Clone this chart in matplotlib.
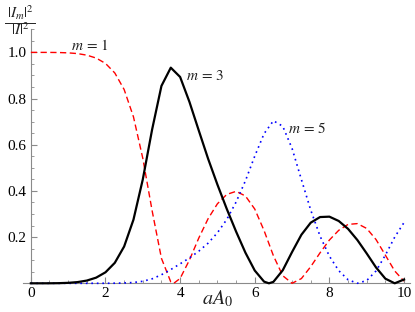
import matplotlib
matplotlib.use("Agg")
import matplotlib.pyplot as plt
from matplotlib.lines import Line2D
from matplotlib.ticker import FixedLocator, MultipleLocator

# Data
a_A0 = [0.0, 0.25, 0.5, 0.75, 1.0, 1.25, 1.5, 1.75, 2.0, 2.25, 2.5, 2.75,
        3.0, 3.25, 3.5, 3.75, 4.0, 4.25, 4.5, 4.75, 5.0, 5.25, 5.5, 5.75,
        6.0, 6.25, 6.5, 6.75, 7.0, 7.25, 7.5, 7.75, 8.0, 8.25, 8.5, 8.75,
        9.0, 9.25, 9.5, 9.75, 10.0]

m1_x = a_A0[:16] + [3.83] + a_A0[16:]
m1 = [1.0000, 1.0000, 0.9999, 0.9994, 0.9980, 0.9948, 0.9880, 0.9755, 0.9523,
      0.9109, 0.8393, 0.7209, 0.5414, 0.3143, 0.1079, 0.0060, 0.0000, 0.0211,
      0.1008, 0.1959, 0.2798, 0.3445, 0.3850, 0.3982, 0.3782, 0.3216, 0.2282,
      0.1194, 0.0329, 0.0001, 0.0205, 0.0721, 0.1321, 0.1874, 0.2294, 0.2551,
      0.2585, 0.2375, 0.1894, 0.1219, 0.0535, 0.0091]

m3_x = a_A0[:26] + [6.38] + a_A0[26:]
m3 = [0.0000, 0.0000, 0.0001, 0.0006, 0.0020, 0.0052, 0.0118, 0.0245, 0.0476,
      0.0887, 0.1594, 0.2756, 0.4499, 0.6662, 0.8549, 0.9338, 0.8936, 0.7857,
      0.6617, 0.5394, 0.4273, 0.3222, 0.2240, 0.1326, 0.0553, 0.0072, 0.0000,
      0.0063, 0.0564, 0.1355, 0.2103, 0.2626, 0.2869, 0.2886, 0.2699, 0.2358,
      0.1873, 0.1292, 0.0686, 0.0200, 0.0000, 0.0164]

m5_x = a_A0
m5 = [0.0000, 0.0000, 0.0000, 0.0000, 0.0000, 0.0000, 0.0000, 0.0000, 0.0001,
      0.0004, 0.0013, 0.0035, 0.0087, 0.0194, 0.0370, 0.0596, 0.0843, 0.1098,
      0.1391, 0.1739, 0.2189, 0.2764, 0.3518, 0.4440, 0.5507, 0.6481, 0.7039,
      0.6802, 0.5840, 0.4493, 0.3170, 0.2043, 0.1175, 0.0548, 0.0154, 0.0001,
      0.0120, 0.0536, 0.1219, 0.1999, 0.2632]

x_ticks = [0, 2, 4, 6, 8, 10]
x_ticklabels = ["0", "2", "4", "6", "8", "10"]
y_ticks = [0.2, 0.4, 0.6, 0.8, 1.0]
y_ticklabels = ["0.2", "0.4", "0.6", "0.8", "1.0"]

plt.rcParams['mathtext.fontset'] = 'stix'
serif = 'Liberation Serif'
axis_gray = '#8a8a8a'
text_col = '#222222'
W, H = 415, 312

fig = plt.figure(figsize=(4.15, 3.12), dpi=100)
ax = fig.add_axes([23 / W, 28.7 / H, 387 / W, 254 / H])
ax.set_xlim(-0.21, 10.16)
ax.set_ylim(0, 1.10)

ax.plot(m1_x, m1, color='#ff0000', lw=1.0, dashes=(4.5, 2.5), clip_on=False, zorder=3,
        solid_joinstyle='round', dash_joinstyle='round')
ax.plot(m3_x, m3, color='black', lw=1.6, clip_on=False, zorder=4,
        solid_joinstyle='round')
ax.plot(m5_x, m5, color='#0000ff', lw=1.2, dashes=(1.0, 2.3), clip_on=False, zorder=3,
        dash_joinstyle='round')

for s in ['top', 'right']:
    ax.spines[s].set_visible(False)
ax.spines['left'].set_position(('data', 0))
ax.spines['bottom'].set_position(('data', 0))
for s in ['left', 'bottom']:
    ax.spines[s].set_color(axis_gray)
    ax.spines[s].set_linewidth(0.8)

ax.xaxis.set_major_locator(FixedLocator(x_ticks))
ax.set_xticklabels(x_ticklabels)
ax.xaxis.set_minor_locator(MultipleLocator(0.5))
ax.yaxis.set_major_locator(FixedLocator(y_ticks))
ax.set_yticklabels(y_ticklabels)
ax.yaxis.set_minor_locator(MultipleLocator(0.05))

ax.tick_params(which='major', direction='in', length=4, width=0.8, color=axis_gray,
               labelsize=11, pad=3)
ax.tick_params(which='minor', direction='in', length=2.3, width=0.6, color=axis_gray)
for lab in ax.get_xticklabels() + ax.get_yticklabels():
    lab.set_family(serif)

# x-axis label
ax.text(5.0, -0.066, r'$aA_0$', fontsize=14.5, ha='center', va='center', color=text_col)

# y-axis label as a stacked fraction
fig.text(20 / W, 1 - 13 / H, r'$|I_m|^2$', fontsize=11, ha='center', va='center',
         color=text_col)
fig.text(20 / W, 1 - 30 / H, r'$|I|^2$', fontsize=11, ha='center', va='center',
         color=text_col)
fig.add_artist(Line2D([5 / W, 35 / W], [1 - 22.5 / H, 1 - 22.5 / H], color=text_col,
                      lw=0.7))

ax.text(1.58, 1.03, r'$m\,=\,1$', fontsize=11, ha='center', va='center', color=text_col)
ax.text(4.66, 0.90, r'$m\,=\,3$', fontsize=11, ha='center', va='center', color=text_col)
ax.text(7.40, 0.672, r'$m\,=\,5$', fontsize=11, ha='center', va='center', color=text_col)

fig.savefig('out.png', dpi=100)
